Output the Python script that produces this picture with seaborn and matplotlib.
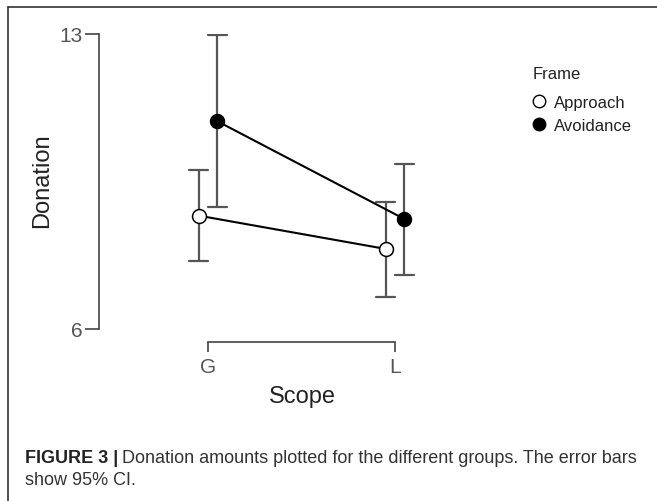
import numpy as np
import pandas as pd
import matplotlib
matplotlib.use("Agg")
import matplotlib.pyplot as plt
from matplotlib.lines import Line2D
import seaborn as sns

# values
scope = ["G", "L"]
frames = ["Approach", "Avoidance"]
approach_mean = [8.69, 7.90]
approach_lo = [7.61, 6.77]
approach_hi = [9.77, 9.01]
avoidance_mean = [10.93, 8.61]
avoidance_lo = [8.89, 7.29]
avoidance_hi = [12.98, 9.92]

# long table: low / mean / high per cell -> median = mean, min/max = CI
rows = []
for frame, lo, mu, hi in [("Approach", approach_lo, approach_mean, approach_hi),
                          ("Avoidance", avoidance_lo, avoidance_mean, avoidance_hi)]:
    for i, s in enumerate(scope):
        for v in (lo[i], mu[i], hi[i]):
            rows.append({"Scope": s, "Frame": frame, "Donation": v})
df = pd.DataFrame(rows)

sns.set_style("ticks")
plt.rcParams["font.family"] = ["Liberation Sans", "DejaVu Sans"]

W, H = 657, 502
fig = plt.figure(figsize=(W / 100, H / 100), dpi=100)
ax = fig.add_axes([140 / W, 1 - 330 / H, 310 / W, 295 / H])

sns.pointplot(data=df, x="Scope", y="Donation", hue="Frame", order=scope,
              hue_order=frames, estimator="median",
              errorbar=lambda v: (v.min(), v.max()),
              palette={"Approach": "black", "Avoidance": "black"},
              markers="o", dodge=0.1, capsize=0.1,
              err_kws={"color": "#555555", "linewidth": 1.6},
              linewidth=1.5, markersize=10, legend=False, ax=ax)

# the lines carrying markers are the point series, in hue order
point_lines = [ln for ln in ax.lines if ln.get_marker() not in (None, "None", "", " ")]
face = {"Approach": "white", "Avoidance": "black"}
for ln, frame in zip(point_lines, frames):
    ln.set_markerfacecolor(face[frame])
    ln.set_markeredgecolor("black")
    ln.set_markeredgewidth(1.1)
    ln.set_zorder(5)

ax.set_ylim(6, 13)
ax.set_xlim(-(208 - 140) / 187, 1 + (450 - 395) / 187)
ax.set_yticks([6, 13])

for side in ["top", "right"]:
    ax.spines[side].set_visible(False)
ax.spines["left"].set_position(("outward", (140 - 99) * 0.72))
ax.spines["bottom"].set_position(("outward", (343 - 330) * 0.72))
ax.spines["left"].set_bounds(6, 13)
ax.spines["bottom"].set_bounds(0, 1)
for side in ["left", "bottom"]:
    ax.spines[side].set_color("#444444")
    ax.spines[side].set_linewidth(1.2)

ax.tick_params(axis="y", length=10, width=1.2, color="#444444",
               labelsize=15, labelcolor="#555555", pad=2)
ax.tick_params(axis="x", length=7, width=1.2, color="#444444",
               labelsize=15, labelcolor="#555555", pad=4)

ax.set_ylabel("Donation", fontsize=17, color="#222222")
ax.yaxis.label.set_va("center")
ax.yaxis.set_label_coords((42 - 140) / 310, (330 - 181) / 295)
ax.set_xlabel("Scope", fontsize=17, color="#222222")
ax.xaxis.label.set_va("center")
ax.xaxis.set_label_coords((302 - 140) / 310, (330 - 397) / 295)

handles = [
    Line2D([], [], linestyle="none", marker="o", markersize=9,
           markerfacecolor="white", markeredgecolor="black", markeredgewidth=1),
    Line2D([], [], linestyle="none", marker="o", markersize=9,
           markerfacecolor="black", markeredgecolor="black"),
]
leg = fig.legend(handles, frames, title="Frame", loc="upper left",
                 bbox_to_anchor=(524 / W, 1 - 59 / H), frameon=False,
                 fontsize=12, title_fontsize=12, handlelength=0.8,
                 handletextpad=0.5, labelspacing=0.45, borderpad=0)
leg._legend_box.align = "left"
leg._legend_box.sep = 10
for t in leg.get_texts():
    t.set_color("#222222")
leg.get_title().set_color("#222222")

# frame around the figure (only top and left edges visible)
fig.add_artist(Line2D([8 / W, 1.0], [1 - 8 / H, 1 - 8 / H], color="#333333",
                      linewidth=1.2, transform=fig.transFigure))
fig.add_artist(Line2D([8 / W, 8 / W], [0.0, 1 - 8 / H], color="#333333",
                      linewidth=1.2, transform=fig.transFigure))

# caption
cap_size = 13
bold = fig.text(25 / W, 1 - 459 / H, "FIGURE 3 |", fontsize=cap_size,
                fontweight="bold", color="#222222", va="center", ha="left")
fig.canvas.draw()
bb = bold.get_window_extent(fig.canvas.get_renderer())
fig.text((bb.x1 + 4) / W, 1 - 459 / H,
         "Donation amounts plotted for the different groups. The error bars",
         fontsize=cap_size, color="#333333", va="center", ha="left")
fig.text(25 / W, 1 - 481 / H, "show 95% CI.", fontsize=cap_size,
         color="#333333", va="center", ha="left")

fig.savefig("out.png", dpi=100)
